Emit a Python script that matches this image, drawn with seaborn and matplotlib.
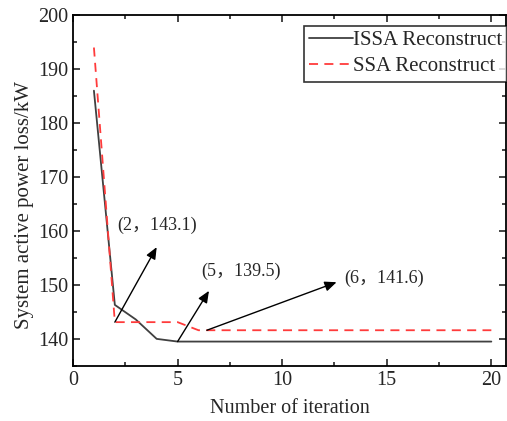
import numpy as np
import pandas as pd
import matplotlib
matplotlib.use("Agg")
import matplotlib.pyplot as plt
import seaborn as sns
from matplotlib.ticker import MultipleLocator

iterations = list(range(1, 21))
issa_loss = [186.0, 146.3, 143.6, 140.0, 139.5] + [139.5] * 15
ssa_loss = [194.0, 143.1, 143.1, 143.1, 143.1] + [141.6] * 15

# annotation labels, anchor points, arrow heads and text spots
ann_labels = ["(2，143.1)", "(5，139.5)", "(6，141.6)"]
ann_points = [(2, 143.1), (5, 139.5), (6.4, 141.6)]
ann_heads = [(4.0, 157.0), (6.5, 148.9), (12.6, 150.5)]
ann_texts = [(2.1, 161.0), (6.15, 152.6), (12.95, 151.2)]

df = pd.concat([
    pd.DataFrame({"iter": iterations, "loss": issa_loss, "method": "ISSA Reconstruct"}),
    pd.DataFrame({"iter": iterations, "loss": ssa_loss, "method": "SSA Reconstruct"}),
])

sns.set_style("ticks")
plt.rcParams["font.family"] = ["Liberation Serif", "Noto Sans CJK SC"]

fig = plt.figure(figsize=(5.07, 4.21), dpi=100)
ax = fig.add_axes([0.144, 0.131, 0.854, 0.833])

sns.lineplot(data=df, x="iter", y="loss", hue="method", style="method",
             palette=["#404040", "#ff3b3b"], dashes=[(None, None), (5, 3.5)],
             linewidth=1.3, ax=ax)

for lab, p, h, t in zip(ann_labels, ann_points, ann_heads, ann_texts):
    ax.annotate("", xy=h, xytext=p,
                arrowprops=dict(arrowstyle="-|>,head_length=0.7,head_width=0.3",
                                color="black", lw=1.0, shrinkA=0, shrinkB=0))
    ax.text(t[0], t[1], lab, fontsize=13, va="center", ha="left")

ax.set_xlim(0, 20.7)
ax.set_ylim(135, 200)
ax.xaxis.set_major_locator(MultipleLocator(5))
ax.xaxis.set_minor_locator(MultipleLocator(2.5))
ax.yaxis.set_major_locator(MultipleLocator(10))
ax.yaxis.set_minor_locator(MultipleLocator(5))
ax.tick_params(which="both", direction="in", top=True, right=True, labelsize=14.5, width=1.2)
ax.tick_params(which="major", length=5)
ax.tick_params(which="minor", length=3)
for s in ax.spines.values():
    s.set_linewidth(1.3)
    s.set_color("black")

ax.set_xlabel("Number of iteration", fontsize=14.5, labelpad=7)
ax.set_ylabel("System active power loss/kW", fontsize=15)
ax.yaxis.set_label_coords(-0.09, 0.46)

leg = ax.legend(loc="upper right", bbox_to_anchor=(1.003, 0.97), borderaxespad=0,
                fontsize=15, frameon=True, fancybox=False, handlelength=2.1,
                handletextpad=0.0, borderpad=0.25, labelspacing=0.3)
leg.get_frame().set_edgecolor("black")
leg.get_frame().set_linewidth(1.2)

fig.savefig("out.png", dpi=100)
